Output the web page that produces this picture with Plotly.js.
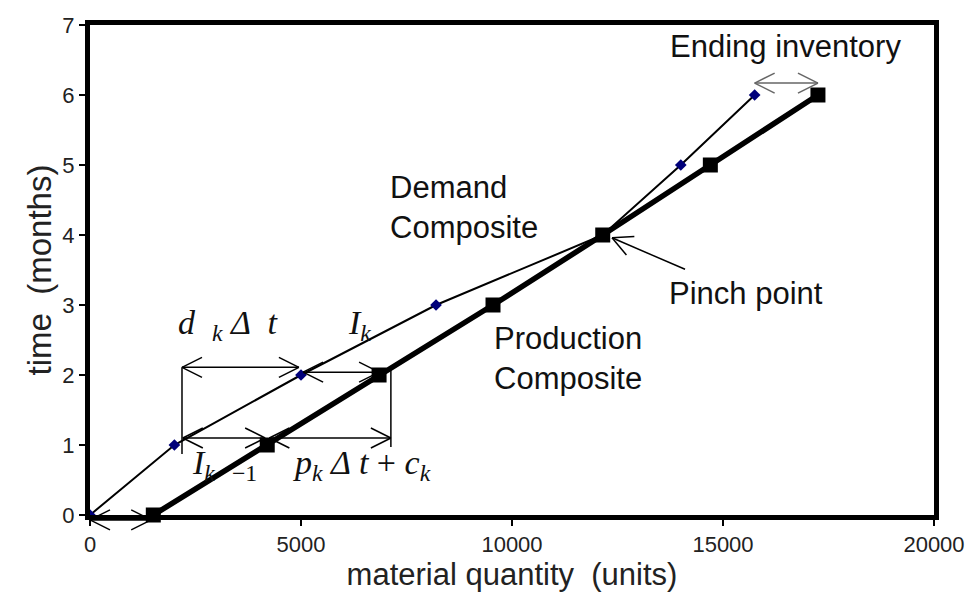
<!DOCTYPE html>
<html>
<head>
<meta charset="utf-8">
<script src="https://cdn.plot.ly/plotly-3.0.1.min.js"></script>
<style>html,body{margin:0;padding:0;background:#fff;}#chart{width:976px;height:600px;}</style>
</head>
<body>
<div id="chart"></div>
<script>
// ---- data ----
const timeMonths = [0, 1, 2, 3, 4, 5, 6];
const demandComposite = [0, 2000, 5000, 8200, 12150, 14000, 15750];
const productionComposite = [1500, 4200, 6850, 9550, 12150, 14700, 17250];
const xTickVals = [0, 5000, 10000, 15000, 20000];
const xTickText = ['0', '5000', '10000', '15000', '20000'];
const yTickVals = [0, 1, 2, 3, 4, 5, 6, 7];

// ---- layout geometry ----
const M = {l: 90, r: 42, t: 25, b: 85};
const PW = 976 - M.l - M.r, PH = 600 - M.t - M.b;
const XR = [0, 20000], YR = [0, 7];

function toPx(x, y) { return [(x - XR[0]) / (XR[1] - XR[0]) * PW, (y - YR[0]) / (YR[1] - YR[0]) * PH]; }
function pxToPaper(px, py) { return [px / PW, py / PH]; }

function lineShape(p0, p1, color, width) {
  const a = pxToPaper(p0[0], p0[1]), b = pxToPaper(p1[0], p1[1]);
  return {type: 'line', xref: 'paper', yref: 'paper', x0: a[0], y0: a[1], x1: b[0], y1: b[1],
          line: {color: color, width: width}, layer: 'above'};
}
function arrow(x0, y0, x1, y1, heads, color, width) {
  color = color || '#000'; width = width || 1.5;
  const p0 = toPx(x0, y0), p1 = toPx(x1, y1);
  const out = [lineShape(p0, p1, color, width)];
  const dx = p1[0] - p0[0], dy = p1[1] - p0[1], len = Math.hypot(dx, dy);
  const ux = dx / len, uy = dy / len;
  const L = 20, Wd = 10;
  function vhead(t, sx, sy) {
    const n1 = [-sy, sx];
    out.push(lineShape(t, [t[0] - L * sx + Wd * n1[0], t[1] - L * sy + Wd * n1[1]], color, width));
    out.push(lineShape(t, [t[0] - L * sx - Wd * n1[0], t[1] - L * sy - Wd * n1[1]], color, width));
  }
  if (heads === 'both' || heads === 'end') vhead(p1, ux, uy);
  if (heads === 'both') vhead(p0, -ux, -uy);
  return out;
}

let shapes = [];
shapes = shapes.concat(
  arrow(2180, 2.11, 4950, 2.11, 'both'),
  arrow(2180, 2.11, 2180, 0.87, 'none'),
  arrow(5050, 2.04, 6850, 2.04, 'both'),
  arrow(7130, 2.10, 7130, 0.97, 'none'),
  arrow(2200, 1.10, 4150, 1.10, 'both'),
  arrow(4250, 1.10, 7130, 1.10, 'both'),
  arrow(0, -0.07, 1450, -0.07, 'both'),
  arrow(15750, 6.17, 17250, 6.17, 'both', '#666', 1.5),
  arrow(14100, 3.51, 12370, 3.96, 'end')
);

const txtFont = {family: 'Arial, "Liberation Sans", sans-serif', size: 31, color: '#111'};
const mathFont = {family: '"Times New Roman", "Liberation Serif", serif', size: 34, color: '#111'};
function ann(x, y, text, font, xanchor) {
  return {x: x, y: y, xref: 'x', yref: 'y', text: text, showarrow: false, font: font,
          xanchor: xanchor || 'left', yanchor: 'middle', align: 'left'};
}
const annotations = [
  ann(16490, 6.70, 'Ending inventory', txtFont, 'center'),
  ann(7060, 4.39, 'Demand<br>Composite', txtFont),
  ann(9530, 2.23, 'Production<br>Composite', txtFont),
  ann(13670, 3.17, 'Pinch point', txtFont),
  ann(2040, 2.71, '<i>d</i>  <sub><i>k</i></sub> <i>Δ  t</i>', mathFont),
  ann(6060, 2.71, '<i>I<sub>k</sub></i>', mathFont),
  ann(2370, 0.71, '<i>I<sub>k</sub></i>  <sub>−1</sub>', mathFont),
  ann(4760, 0.71, '<i>p<sub>k</sub> Δ t</i> + <i>c<sub>k</sub></i>', mathFont),
  ann(470, -0.79, '<i>I<sub>o</sub></i>', mathFont)
];

const traces = [
  {x: demandComposite, y: timeMonths, mode: 'lines+markers', type: 'scatter', cliponaxis: false,
   line: {color: '#000', width: 2}, marker: {symbol: 'diamond', size: 9, color: '#00007a'}, name: 'Demand Composite'},
  {x: productionComposite, y: timeMonths, mode: 'lines+markers', type: 'scatter', cliponaxis: false,
   line: {color: '#000', width: 5.5}, marker: {symbol: 'square', size: 15, color: '#000'}, name: 'Production Composite'}
];

const axisCommon = {showgrid: false, zeroline: false, showline: true, linecolor: '#000', linewidth: 5, mirror: true,
  ticks: 'outside', ticklen: 6, tickwidth: 1.5, tickcolor: '#000',
  tickfont: {family: 'Arial, "Liberation Sans", sans-serif', size: 22, color: '#222'}};

const layout = {
  width: 976, height: 600, margin: M, showlegend: false,
  paper_bgcolor: '#fff', plot_bgcolor: '#fff',
  xaxis: Object.assign({}, axisCommon, {range: XR, tickvals: xTickVals, ticktext: xTickText,
    title: {text: 'material quantity  (units)', font: {family: 'Arial, "Liberation Sans", sans-serif', size: 31, color: '#222'}, standoff: 2}}),
  yaxis: Object.assign({}, axisCommon, {range: YR, tickvals: yTickVals,
    title: {text: 'time  (months)', font: {family: 'Arial, "Liberation Sans", sans-serif', size: 33, color: '#222'}, standoff: 2}}),
  shapes: shapes,
  annotations: annotations
};

Plotly.newPlot('chart', traces, layout, {staticPlot: true});
</script>
</body>
</html>
